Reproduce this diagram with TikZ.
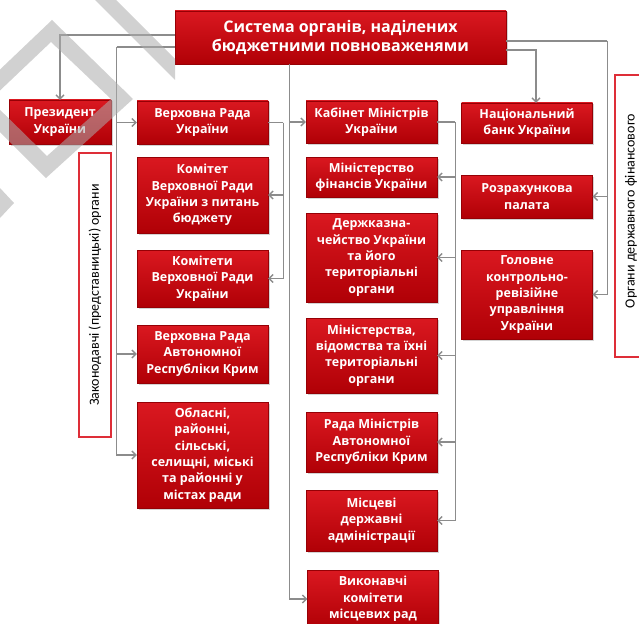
\documentclass[tikz,border=0pt]{standalone}
\usepackage{fontspec}
\setmainfont{Open Sans}
\newfontfamily\labelfont{Carlito}
\usetikzlibrary{calc}
\usetikzlibrary{arrows.meta}
\usetikzlibrary{shadows}
\definecolor{boxtop}{RGB}{218,24,32}
\definecolor{boxbot}{RGB}{176,0,6}
\definecolor{linkgray}{RGB}{140,140,140}
\definecolor{framered}{RGB}{222,46,56}
\definecolor{markgray}{RGB}{172,172,172}
\tikzset{
	redbox/.style={draw=boxbot!85!black, line width=.4pt, top color=boxtop, bottom color=boxbot,
		drop shadow={shadow xshift=1.5pt, shadow yshift=-1.5pt, opacity=.35},
		text=white, align=center, inner sep=1pt, minimum width=131pt,
		font=\bfseries\fontsize{12.5}{16.3}\selectfont},
	titlebox/.style={font=\bfseries\fontsize{16}{19.5}\selectfont},
	sidebox/.style={draw=framered, line width=1.1pt, fill=white, rotate=90,
		font=\labelfont\fontsize{14}{16}\selectfont},
	link/.style={draw=linkgray, line width=1.3pt},
	>={Straight Barb[length=4pt,width=8pt]},
}
\begin{document}
\begin{tikzpicture}[x=1pt,y=-1pt]
	\useasboundingbox (0,0) rectangle (639,623);
	% title and president
	\node[redbox, titlebox, minimum width=331pt, minimum height=53pt] (sys) at (340.5,37.5) {Система органів, наділених\\бюджетними повноваженями};
	\node[redbox, minimum width=102pt, minimum height=44pt] (pres) at (60,122) {Президент\\України};
	% legislative bodies
	\node[redbox, minimum height=43pt] (vr) at (202.5,122.5) {Верховна Рада\\України};
	\node[redbox, minimum height=76pt] (kombud) at (202.5,195) {Комітет\\Верховної Ради\\України з питань\\бюджету};
	\node[redbox, minimum height=57pt] (komvr) at (202.5,278.5) {Комітети\\Верховної Ради\\України};
	\node[redbox, minimum height=58pt] (vrark) at (202.5,354) {Верховна Рада\\Автономної\\Республіки Крим};
	\node[redbox, minimum height=106pt] (rady) at (202.5,455) {Обласні,\\районні,\\сільські,\\селищні, міські\\та районні у\\містах ради};
	% executive bodies
	\node[redbox, minimum height=42pt] (kmu) at (371.5,122) {Кабінет Міністрів\\України};
	\node[redbox, minimum height=40pt] (minfin) at (371.5,177) {Міністерство\\фінансів України};
	\node[redbox, minimum height=89pt] (dks) at (371.5,257.5) {Держказна-\\чейство України\\та його\\територіальні\\органи};
	\node[redbox, minimum height=75pt] (ministr) at (371.5,355.5) {Міністерства,\\відомства та їхні\\територіальні\\органи};
	\node[redbox, minimum height=60pt] (rmark) at (371.5,442) {Рада Міністрів\\Автономної\\Республіки Крим};
	\node[redbox, minimum height=61pt] (mda) at (371.5,520.5) {Місцеві\\державні\\адміністрації};
	\node[redbox, minimum height=58pt] (vykom) at (373,599) {Виконавчі\\комітети\\місцевих рад};
	% control bodies
	\node[redbox, minimum height=40pt] (nbu) at (527,123) {Національний\\банк України};
	\node[redbox, minimum height=43pt] (rp) at (527,196.5) {Розрахункова\\палата};
	\node[redbox, minimum height=89pt] (kru) at (527,294.5) {Головне\\контрольно-\\ревізійне\\управління\\України};
	% side labels
	\node[sidebox, minimum width=284pt, minimum height=32pt] (legis) at (95,295) {Законодавчі (представницькі) органи};
	\node[sidebox, minimum width=282pt, minimum height=65pt] (control) at (647.5,216) {};
	\node[rotate=90, font=\labelfont\fontsize{14}{16}\selectfont] (controltxt) at (631,211) {Органи державного фінансового};
	% connectors
	\coordinate (legtrunk) at ($(sys.west)+(-58,9.5)$);
	\coordinate (vrtrunk) at ($(vr.east)+(15,0)$);
	\coordinate (govtrunk) at ($(sys.south)+(-51,0)$);
	\coordinate (kmutrunk) at ($(kmu.east)+(18,0)$);
	\coordinate (ctrltrunk) at ($(sys.east)+(101,3.5)$);
	\draw[link,->] ($(sys.west)+(0,-2.5)$) -| (pres.north);
	\draw[link] ($(sys.west)+(0,9.5)$) -- (legtrunk);
	\foreach \b in {vr,vrark,rady}
		\draw[link,->] (legtrunk) |- (\b.west);
	\draw[link] (vr.east) -- (vrtrunk);
	\foreach \b in {kombud,komvr}
		\draw[link,->] (vrtrunk) |- (\b.east);
	\draw[link,->] (govtrunk) |- (kmu.west);
	\draw[link,->] (govtrunk) |- (vykom.west);
	\draw[link] (kmu.east) -- (kmutrunk);
	\foreach \b in {minfin,dks,ministr,rmark,mda}
		\draw[link,->] (kmutrunk) |- (\b.east);
	\draw[link,->] ($(sys.east)+(0,12.5)$) -| ($(nbu.north)+(9,0)$);
	\draw[link] ($(sys.east)+(0,3.5)$) -- (ctrltrunk);
	\foreach \b in {rp,kru}
		\draw[link,->] (ctrltrunk) |- (\b.east);
	% watermark
	\fill[markgray, opacity=.55, even odd rule] (52,20) -- (133,99) -- (46,178) -- (-32,100) -- cycle
		(51,42) -- (111,99) -- (47,156) -- (-10,100) -- cycle;
	\fill[markgray, opacity=.55] (95,0) -- (116,0) -- (175,59) -- (175,80) -- cycle;
	\fill[markgray, opacity=.55] (0,188) -- (14,203) -- (0,218) -- cycle;
\end{tikzpicture}
\end{document}
